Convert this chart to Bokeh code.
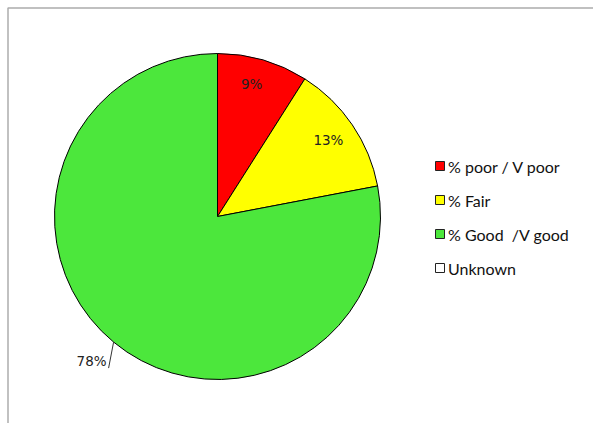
import math
from bokeh.plotting import figure
from bokeh.models import Range1d, ColumnDataSource
from bokeh.core.properties import value
from bokeh.embed import file_html
from bokeh.resources import INLINE

categories = ["% poor / V poor", "% Fair", "% Good \u00a0/V good", "Unknown"]
percent = [9, 13, 78, 0]
colors = ["#FF0000", "#FFFF00", "#4CE73C", "#FFFFFF"]

W, H = 593, 423
p = figure(width=W, height=H, output_backend="svg", toolbar_location=None,
           x_range=Range1d(0, W), y_range=Range1d(0, H), min_border=0)
p.axis.visible = False
p.grid.visible = False
p.outline_line_color = None
p.background_fill_color = "white"

# frame
p.quad(left=[7.5], right=[W + 20], top=[H - 7.5], bottom=[-20],
       fill_color=None, line_color="#ACACAC", line_width=1.5)

cx, cy, R = 217, H - 216, 163
total = sum(percent)
starts, ends, mids = [], [], []
cum = 0.0
for v in percent:
    a0 = math.pi / 2 - 2 * math.pi * cum / total
    cum += v
    a1 = math.pi / 2 - 2 * math.pi * cum / total
    starts.append(a0)
    ends.append(a1)
    mids.append((a0 + a1) / 2)

idx = [i for i, v in enumerate(percent) if v > 0]
src = ColumnDataSource(dict(
    start=[starts[i] for i in idx], end=[ends[i] for i in idx],
    color=[colors[i] for i in idx]))
p.wedge(x=cx, y=cy, radius=R, start_angle="start", end_angle="end",
        direction="clock", fill_color="color", line_color="black",
        line_width=1, source=src)

# inside labels for the small slices, outside label with leader for the big one
font = value("DejaVu Sans")
fsize = "13.5px"
for i in idx:
    label = f"{percent[i]}%"
    m = mids[i]
    if percent[i] < 50:
        r = 0.86 * R
        p.text(x=[cx + r * math.cos(m) - 5], y=[cy + r * math.sin(m) - 2],
               text=[label], text_font=font, text_font_size=fsize,
               text_color="#222222", text_align="center",
               text_baseline="middle")
    else:
        ex, ey = cx + R * math.cos(m), cy + R * math.sin(m)
        lx, ly = ex - 5, ey - 26
        p.line(x=[ex, lx], y=[ey, ly], line_color="#333333", line_width=1)
        p.text(x=[lx - 2], y=[ly + 7], text=[label], text_font=font,
               text_font_size=fsize, text_color="#222222",
               text_align="right", text_baseline="middle")

# legend
lx0, ly0, step = 439.5, H - 165.5, 34
for k, (name, c) in enumerate(zip(categories, colors)):
    y = ly0 - k * step
    p.rect(x=[lx0], y=[y], width=9, height=9, fill_color=c,
           line_color="#222222", line_width=1)
    p.text(x=[lx0 + 8], y=[y], text=[name], text_font=value("Lato"),
           text_font_size="16px", text_color="#111111",
           text_align="left", text_baseline="middle")

open("out.html", "w").write(file_html(p, INLINE))
